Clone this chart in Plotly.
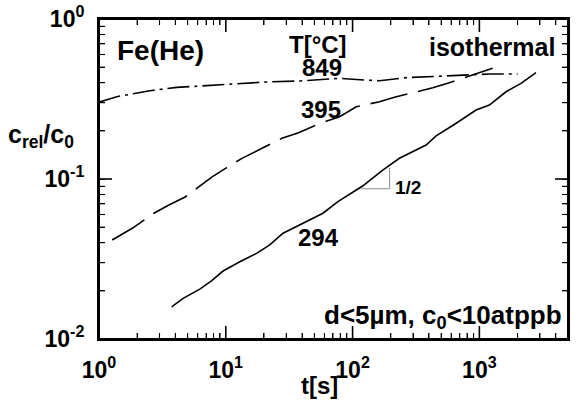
import math
import plotly.graph_objects as go

# ---- data (t in s, c_rel/c0) ----
t_849 = [1.0, 1.38, 2.52, 4.10, 6.24, 11.4, 20.9, 38.3, 79, 100, 163, 265, 484, 881, 1200, 2004]
c_849 = [0.302, 0.327, 0.356, 0.374, 0.381, 0.392, 0.404, 0.410, 0.426, 0.420, 0.411, 0.430, 0.440, 0.449, 0.453, 0.453]

t_395 = [1.27, 1.83, 2.71, 3.56, 4.82, 7.80, 9.95, 13.4, 19.3, 27.7, 37.5, 54, 79, 107, 163, 214, 429, 580, 1273]
c_395 = [0.0416, 0.0492, 0.0611, 0.0688, 0.0775, 0.103, 0.1166, 0.1346, 0.1555, 0.1795, 0.1946, 0.221, 0.245, 0.283, 0.304, 0.324, 0.372, 0.400, 0.492]

t_294 = [3.74, 4.61, 6.24, 7.71, 9.52, 12.9, 17.5, 22.2, 28.3, 40.6, 58.4, 76.6, 107, 120, 173, 234, 380, 456, 656, 942, 1199, 1623, 2129, 2795]
c_294 = [0.0159, 0.01796, 0.0205, 0.0231, 0.0266, 0.0304, 0.0343, 0.0387, 0.0458, 0.0529, 0.0611, 0.0722, 0.0854, 0.0904, 0.1138, 0.1347, 0.163, 0.186, 0.223, 0.270, 0.290, 0.351, 0.396, 0.462]

# slope-1/2 triangle
t_slope = [117, 196, 196]
c_slope = [0.0869, 0.0869, 0.1175]

x_labels = ["10<sup>0</sup>", "10<sup>1</sup>", "10<sup>2</sup>", "10<sup>3</sup>"]
y_labels = ["10<sup>-2</sup>", "10<sup>-1</sup>", "10<sup>0</sup>"]

FONT = "Liberation Sans"
X_RANGE = [0, 3.699]
Y_RANGE = [-2, 0]
W, H = 577, 402
ML, MR, MT, MB = 99, 9, 19, 63
PW, PH = W - ML - MR, H - MT - MB

# tick sets: decades labelled, 2..9 unlabelled
x_all, x_txt, x_major = [], [], []
for d in range(0, 4):
    for k in range(1, 10):
        v = k * 10 ** d
        if v <= 5000:
            x_all.append(v)
            x_txt.append("<b>" + x_labels[d] + "</b>" if k == 1 else "")
            x_major.append(k == 1)
y_all, y_txt, y_major = [], [], []
for i, d in enumerate((-2, -1)):
    for k in range(1, 10):
        y_all.append(k * 10.0 ** d)
        y_txt.append("<b>" + y_labels[i] + "</b>" if k == 1 else "")
        y_major.append(k == 1)
y_all.append(1.0)
y_txt.append("<b>" + y_labels[2] + "</b>")
y_major.append(True)

fig = go.Figure()
fig.add_trace(go.Scatter(x=t_849, y=c_849, mode="lines",
                         line=dict(color="black", width=1.6, dash="22px,5px,3px,5px")))
fig.add_trace(go.Scatter(x=t_395, y=c_395, mode="lines",
                         line=dict(color="black", width=1.6, dash="38px,11px")))
fig.add_trace(go.Scatter(x=t_294, y=c_294, mode="lines",
                         line=dict(color="black", width=1.6)))
fig.add_trace(go.Scatter(x=t_slope, y=c_slope, mode="lines",
                         line=dict(color="#888888", width=1)))

base = dict(type="log", showgrid=False, showline=True, linecolor="black",
            linewidth=2, mirror="allticks", ticks="inside", tickcolor="black",
            automargin=False, tickangle=0)

fig.update_layout(
    width=W, height=H,
    margin=dict(l=ML, r=MR, t=MT, b=MB),
    paper_bgcolor="white", plot_bgcolor="white",
    showlegend=False,
    xaxis=dict(**base, range=X_RANGE, tickmode="array", tickvals=x_all, ticktext=x_txt,
               ticklen=6, tickwidth=1, ticklabelstandoff=9,
               tickfont=dict(family=FONT, size=23, color="black")),
    yaxis=dict(**base, range=Y_RANGE, tickmode="array", tickvals=y_all, ticktext=y_txt,
               ticklen=6, tickwidth=1, ticklabelstandoff=8,
               tickfont=dict(family=FONT, size=23, color="black")),
)

# frame and tick marks (mirrored on all four sides), placed from the tick values
shapes = [dict(type="rect", xref="paper", yref="paper", x0=0, y0=0, x1=1, y1=1,
               line=dict(color="black", width=2), layer="above")]
for v, major in zip(x_all, x_major):
    xp = (math.log10(v) - X_RANGE[0]) / (X_RANGE[1] - X_RANGE[0])
    if xp <= 0.001 or xp >= 0.999:
        continue
    L = (13 if major else 6) / PH
    w = 1.6 if major else 1.1
    shapes.append(dict(type="line", xref="paper", yref="paper", x0=xp, x1=xp, y0=0, y1=L,
                       line=dict(color="black", width=w), layer="above"))
    shapes.append(dict(type="line", xref="paper", yref="paper", x0=xp, x1=xp, y0=1, y1=1 - L,
                       line=dict(color="black", width=w), layer="above"))
for v, major in zip(y_all, y_major):
    yp = (math.log10(v) - Y_RANGE[0]) / (Y_RANGE[1] - Y_RANGE[0])
    if yp <= 0.001 or yp >= 0.999:
        continue
    L = (13 if major else 6) / PW
    w = 1.6 if major else 1.1
    shapes.append(dict(type="line", xref="paper", yref="paper", x0=0, x1=L, y0=yp, y1=yp,
                       line=dict(color="black", width=w), layer="above"))
    shapes.append(dict(type="line", xref="paper", yref="paper", x0=1, x1=1 - L, y0=yp, y1=yp,
                       line=dict(color="black", width=w), layer="above"))
fig.update_layout(shapes=shapes)

def ann(text, x, y, size, xanchor="center", yanchor="middle"):
    fig.add_annotation(text="<b>" + text + "</b>", x=x, y=y, xref="paper", yref="paper",
                       showarrow=False, xanchor=xanchor, yanchor=yanchor,
                       font=dict(family=FONT, size=size, color="black"))

ann("Fe(He)", 0.034, 0.903, 28, xanchor="left")
ann("T[°C]", 0.466, 0.919, 24)
ann("isothermal", 0.9755, 0.9125, 25, xanchor="right")
ann("849", 0.475, 0.847, 24)
ann("395", 0.473, 0.716, 24)
ann("294", 0.469, 0.316, 24)
ann("1/2", 0.626, 0.475, 19, xanchor="left")
ann("d&lt;5µm, c<sub>0</sub>&lt;10atppb", 0.9925, 0.07, 26, xanchor="right")
ann("c<sub>rel</sub>/c<sub>0</sub>", -0.049, 0.635, 25, xanchor="right")
ann("t[s]", 0.47, -0.144, 24)

fig.write_html("out.html", config={"displayModeBar": False},
               post_script="document.body.style.margin='0px';document.body.style.overflow='hidden';")
